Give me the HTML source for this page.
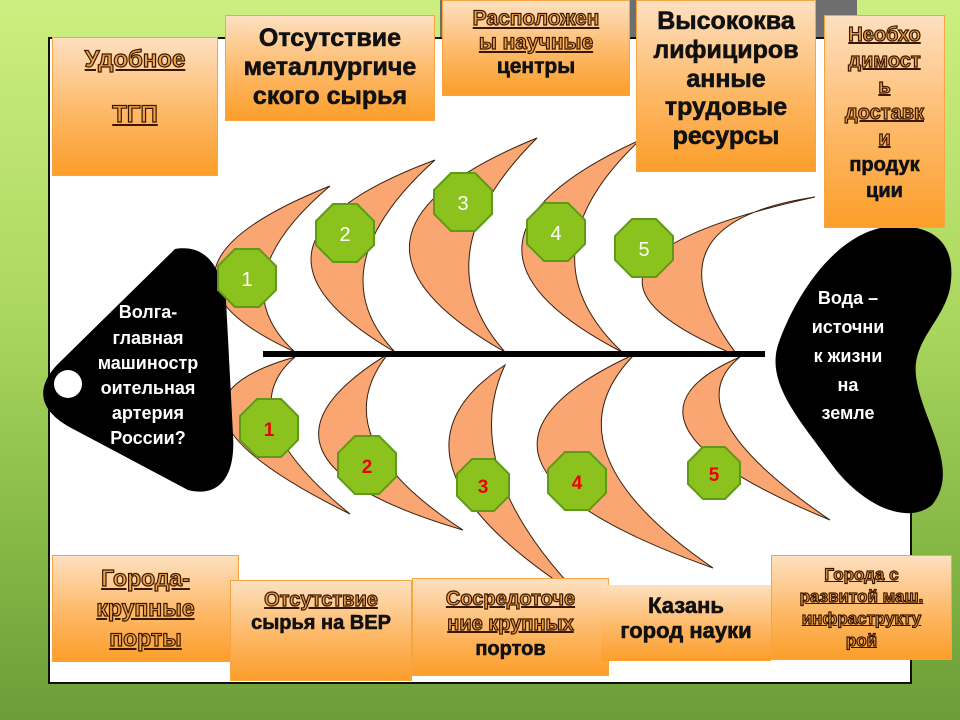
<!DOCTYPE html>
<html><head><meta charset="utf-8"><style>
body{margin:0;width:960px;height:720px;overflow:hidden;position:relative;font-family:"Liberation Sans",sans-serif;
background:linear-gradient(180deg,#cdee80 0%,#a9d65e 45%,#86b846 75%,#6c9c38 100%);}
.box{position:absolute;background:linear-gradient(180deg,#fde0c0 0%,#fdb866 55%,#fc9e2a 100%);border:1px solid #f7a442;box-sizing:border-box;
text-align:center;font-weight:bold;color:#111;display:flex;flex-direction:column;justify-content:flex-start;align-items:center;line-height:1.15;-webkit-text-stroke:0.6px #111}
.u{color:#f2a24a;-webkit-text-stroke:1.2px #3a1800;text-decoration:underline;text-decoration-color:#3a1800}
</style></head><body>
<div style="position:absolute;left:440px;top:0;width:417px;height:62px;background:#6e6e6e"></div>
<div style="position:absolute;left:48px;top:37px;width:864px;height:647px;background:#fff;border:2px solid #111;box-sizing:border-box"></div>
<svg width="960" height="720" style="position:absolute;left:0;top:0">
<g fill="#f9a672" stroke="#3a2010" stroke-width="1">
<path d="M295,352 Q117.5,271 330,186 Q217.5,281 295,352Z"/>
<path d="M395,352 Q209,244 435,160 Q315,268 395,352Z"/>
<path d="M505,352 Q299,235 537,138 Q419,255 505,352Z"/>
<path d="M622,352 Q413,244 640,140 Q519,254 622,352Z"/>
<path d="M738,356 Q513.5,263.5 815,197 Q637.5,223.5 738,356Z"/>
<path d="M295,357 Q127.5,404.5 350,514 Q227.5,414.5 295,357Z"/>
<path d="M388,354 Q218.5,458 463,530 Q320.5,438 388,354Z"/>
<path d="M505,365 Q362.5,458.5 582,598 Q456.5,468.5 505,365Z"/>
<path d="M635,354 Q406,459 713,568 Q540,449 635,354Z"/>
<path d="M740,357 Q591,421.5 830,520 Q671,411.5 740,357Z"/>
</g>
<rect x="263" y="351" width="502" height="6" fill="#000"/>
<path d="M175,249 C205,244 220,265 226,300 L233,435 C236,482 215,497 188,490 L75,430 C35,410 35,385 62,360 Z" fill="#000"/>
<circle cx="68" cy="384" r="14" fill="#fff"/>
<path d="M880,228 C932,220 958,242 950,288 C943,322 912,340 916,376 C921,420 962,468 932,505 C905,527 858,502 830,462 C800,420 764,382 779,342 C794,300 830,240 880,228 Z" fill="#000"/>
<g fill="#8cc21e" stroke="#5e9a18" stroke-width="2" font-family="Liberation Sans" font-size="20" text-anchor="middle">
<g transform="translate(247,278)"><polygon points="12,-29 29,-12 29,12 12,29 -12,29 -29,12 -29,-12 -12,-29"/><text y="8" fill="#fff" stroke="none">1</text></g>
<g transform="translate(345,233)"><polygon points="12,-29 29,-12 29,12 12,29 -12,29 -29,12 -29,-12 -12,-29"/><text y="8" fill="#fff" stroke="none">2</text></g>
<g transform="translate(463,202)"><polygon points="12,-29 29,-12 29,12 12,29 -12,29 -29,12 -29,-12 -12,-29"/><text y="8" fill="#fff" stroke="none">3</text></g>
<g transform="translate(556,232)"><polygon points="12,-29 29,-12 29,12 12,29 -12,29 -29,12 -29,-12 -12,-29"/><text y="8" fill="#fff" stroke="none">4</text></g>
<g transform="translate(644,248)"><polygon points="12,-29 29,-12 29,12 12,29 -12,29 -29,12 -29,-12 -12,-29"/><text y="8" fill="#fff" stroke="none">5</text></g>
<g font-weight="bold" font-size="19">
<g transform="translate(269,428)"><polygon points="12,-29 29,-12 29,12 12,29 -12,29 -29,12 -29,-12 -12,-29"/><text y="8" fill="#e00" stroke="none">1</text></g>
<g transform="translate(367,465)"><polygon points="12,-29 29,-12 29,12 12,29 -12,29 -29,12 -29,-12 -12,-29"/><text y="8" fill="#e00" stroke="none">2</text></g>
<g transform="translate(483,485)"><polygon points="11,-26 26,-11 26,11 11,26 -11,26 -26,11 -26,-11 -11,-26"/><text y="8" fill="#e00" stroke="none">3</text></g>
<g transform="translate(577,481)"><polygon points="12,-29 29,-12 29,12 12,29 -12,29 -29,12 -29,-12 -12,-29"/><text y="8" fill="#e00" stroke="none">4</text></g>
<g transform="translate(714,473)"><polygon points="11,-26 26,-11 26,11 11,26 -11,26 -26,11 -26,-11 -11,-26"/><text y="8" fill="#e00" stroke="none">5</text></g>
</g></g>
<g fill="#fff" font-family="Liberation Sans" font-weight="bold" font-size="18" text-anchor="middle">
<text x="148" y="318">Волга-</text><text x="148" y="344">главная</text><text x="148" y="369">машиностр</text><text x="148" y="394">оительная</text><text x="148" y="419">артерия</text><text x="148" y="444">России?</text>
<text x="848" y="304">Вода –</text><text x="848" y="333">источни</text><text x="848" y="362">к жизни</text><text x="848" y="391">на</text><text x="848" y="419">земле</text>
</g>
</svg>
<div class="box" style="left:52px;top:37px;width:166px;height:139px;font-size:24px;padding-top:8px"><span class="u">Удобное</span><br><span class="u">ТГП</span></div>
<div class="box" style="left:225px;top:15px;width:210px;height:106px;font-size:25px;padding-top:8px">Отсутствие<br>металлургиче<br>ского сырья</div>
<div class="box" style="left:442px;top:0;width:188px;height:96px;font-size:21px;padding-top:6px"><span class="u">Расположен</span><span class="u">ы научные</span>центры</div>
<div class="box" style="left:636px;top:0;width:180px;height:172px;font-size:25px;padding-top:6px">Высококва<br>лифициров<br>анные<br>трудовые<br>ресурсы</div>
<div class="box" style="left:824px;top:15px;width:121px;height:213px;font-size:20px;padding-top:6px;line-height:1.3"><span class="u">Необхо</span><span class="u">димост</span><span class="u">ь</span><span class="u">доставк</span><span class="u">и</span>продук<br>ции</div>
<div class="box" style="left:52px;top:555px;width:187px;height:107px;font-size:23px;padding-top:8px;line-height:1.3"><span class="u">Города-</span><span class="u">крупные</span><span class="u">порты</span></div>
<div class="box" style="left:230px;top:580px;width:182px;height:101px;font-size:20px;padding-top:8px"><span class="u">Отсутствие</span>сырья на ВЕР</div>
<div class="box" style="left:412px;top:578px;width:197px;height:98px;font-size:20px;padding-top:8px;line-height:1.25"><span class="u">Сосредоточе</span><span class="u">ние крупных</span>портов</div>
<div class="box" style="left:601px;top:585px;width:170px;height:76px;font-size:22px;padding-top:8px;border:none">Казань<br>город науки</div>
<div class="box" style="left:771px;top:555px;width:181px;height:105px;font-size:17px;padding-top:8px;line-height:1.3"><span class="u">Города с</span><span class="u">развитой маш.</span><span class="u">инфраструкту</span><span class="u">рой</span></div>
</body></html>
